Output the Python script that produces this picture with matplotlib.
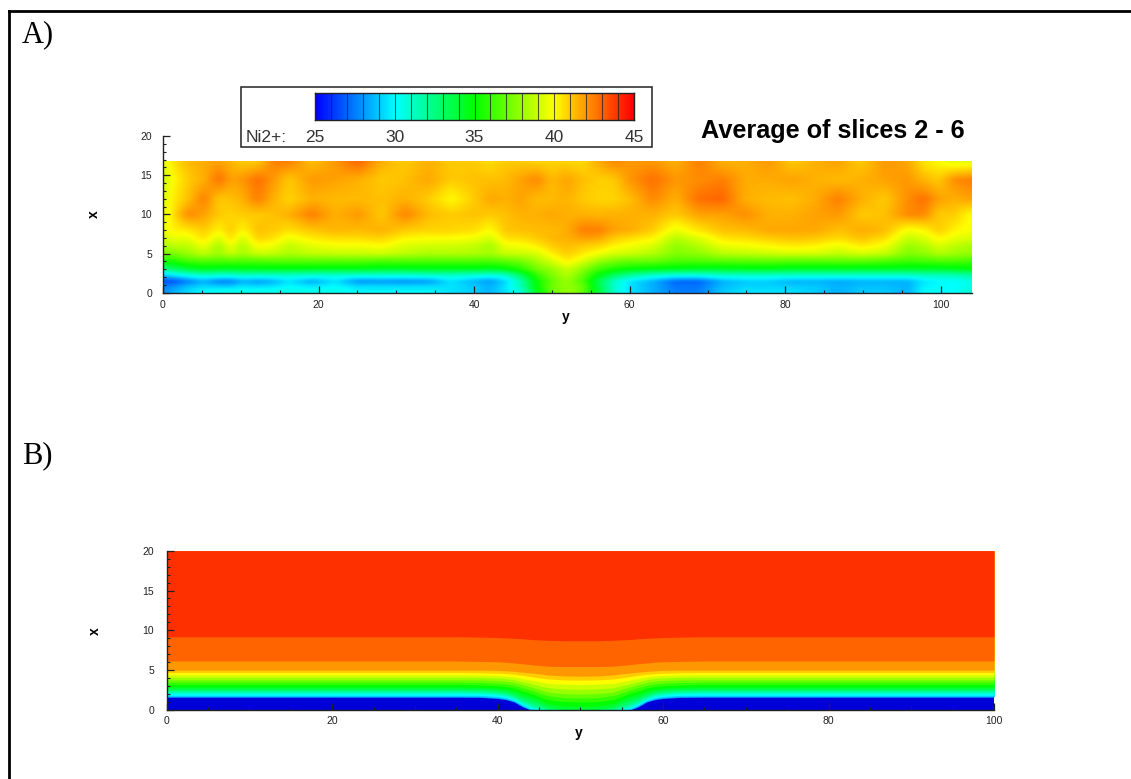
import numpy as np
import matplotlib
matplotlib.use("Agg")
import matplotlib.pyplot as plt
from matplotlib.colors import LinearSegmentedColormap
from matplotlib.lines import Line2D
from matplotlib.patches import Rectangle
from matplotlib.ticker import MultipleLocator

W, H = 1131, 779

### panel A, values (rows are x, columns are y)
a_y = [0, 1, 3, 5, 7, 8.5, 10, 12, 14, 16, 19, 22, 25, 28, 31, 34, 37, 40, 42, 44, 46, 48,
       50, 52, 54, 56, 58, 60, 63, 66, 69, 72, 75, 78, 81, 84, 87, 90, 93, 96, 98, 100, 102, 104]
a_x = [0, 0.8, 1.4, 2.2, 3, 4, 5, 6, 7, 8, 10, 12, 14.5, 16.8]
a_00 = [28, 28.5, 29.5, 30, 30.5, 30.5, 30.5, 30.5, 30.5, 30.5, 30.5, 30.5, 30, 30, 30, 30, 29.5, 29, 28.5, 29.5, 30.5, 34.5,
        37, 38, 37, 34, 31, 29.5, 28.5, 27.5, 27.5, 29, 29.5, 29.5, 29.5, 29, 28.5, 29, 29, 28.5, 30, 30, 30, 31]
a_08 = [27.5, 27.8, 28.7, 29.3, 29, 29, 29.5, 29.3, 29.5, 30, 29.5, 30, 29.3, 29.3, 29.3, 29.3, 29.5, 29, 28.5, 29.5, 31.5, 35,
        37.2, 38, 37, 33.7, 31, 29.5, 28.5, 27.3, 27.3, 28.7, 29.2, 29.2, 29, 29, 28.5, 28.8, 28.8, 28.5, 29.8, 30, 30, 30.5]
a_14 = [26.5, 26.5, 27.5, 28.5, 27.5, 27.5, 28.5, 28, 28.5, 29.5, 28.3, 29.5, 27.8, 28, 27.8, 28, 29.5, 28.5, 28, 29.2, 31.5, 35,
        37, 38, 36.5, 33.5, 31, 29.5, 28.5, 27, 27, 28.5, 29, 29, 28.5, 28.5, 28.3, 28.5, 28.5, 28.5, 29.5, 30, 30, 30.5]
a_22 = [29, 29.5, 30.5, 31, 30.8, 30.8, 31, 31, 31, 31, 30.8, 30.8, 30.8, 30.8, 30.8, 31, 31, 30.8, 30.5, 31, 33.2, 36,
        37.5, 38.5, 37, 34.8, 33.2, 32, 31, 30.5, 30.5, 31, 31, 31, 31, 31, 31, 31, 31, 31, 31.3, 31.3, 31.5, 31.8]
a_30 = [32.5, 33, 34, 34.5, 34.3, 34.3, 34.5, 34.5, 34.5, 34.5, 34.5, 34.5, 34.5, 34.3, 34.3, 34.5, 34.5, 34.5, 34.3, 34.8, 35.8, 37.2,
        38, 39, 37.8, 36.3, 35.5, 35, 34.7, 34.5, 34.3, 34.3, 34.5, 34.5, 34.3, 34.3, 34.3, 34.3, 34.3, 34.3, 34.3, 34.3, 34.5, 34.8]
a_40 = [35.5, 35.5, 36.3, 36.5, 36.5, 36.5, 36.5, 36.5, 36.7, 36.7, 36.7, 36.7, 36.7, 36.5, 36.6, 36.5, 36.5, 36.5, 36.5, 36.8, 37.2, 38.2,
        39.2, 40.3, 39.3, 38, 37.3, 37, 37, 36.5, 36.5, 36.7, 36.7, 36.8, 36.7, 36.7, 36.8, 36.8, 36.5, 36.2, 36.3, 36.5, 36.5, 36.3]
a_50 = [37.2, 37.4, 38, 38.8, 38, 38.9, 38.2, 39, 38.8, 38.4, 38.8, 38.9, 38.9, 39, 38.7, 38.4, 38.5, 38.4, 38.2, 38.9, 39, 39.2,
        40.3, 41, 40.4, 39.8, 39.2, 39, 38.5, 37.5, 37.8, 38.6, 38.8, 39, 39.2, 39.2, 38.8, 39.2, 38.8, 37.5, 37.8, 38.5, 38.1, 37.9]
a_60 = [38.4, 38.7, 38.7, 39.7, 38.2, 39.8, 38.4, 40, 39.7, 38.8, 39.5, 39.8, 39.8, 40, 39.3, 39.1, 39.1, 38.8, 38.2, 39.7, 39.8, 40.3,
        41, 41.3, 41, 40.8, 40.2, 39.8, 39.3, 37.8, 38.5, 39.6, 39.8, 40.1, 40.4, 40.2, 39.7, 40.4, 39.8, 38, 38.4, 39.3, 38.7, 38.3]
a_70 = [39.1, 39.6, 39.6, 40.6, 39.2, 40.7, 39.2, 40.9, 40.6, 39.7, 40.4, 40.7, 40.7, 40.9, 40.2, 40, 40, 39.8, 39.2, 40.6, 40.7, 41,
        41.4, 41.5, 41.9, 41.8, 41, 40.7, 40.2, 38.6, 39.4, 40.5, 40.7, 41, 41.2, 41.1, 40.7, 41.2, 40.7, 38.9, 39.3, 40.2, 39.6, 39.3]
a_80 = [39.6, 40.2, 40.4, 41, 40.2, 41, 40.1, 41.2, 41, 40.6, 41.1, 41.4, 41.3, 41.5, 41, 40.8, 40.8, 40.6, 40, 41.1, 41.2, 41.3,
        41.3, 41.6, 42.5, 42.5, 41.8, 41.6, 41, 39.6, 40.5, 41.2, 41.3, 41.7, 41.7, 41.7, 41.2, 41.6, 41.3, 39.8, 40.1, 41, 40.2, 39.8]
a_100 = [39.5, 40.5, 42.3, 41.8, 41, 40.8, 41, 41, 41.2, 41.5, 42.5, 41.5, 42, 41, 42.4, 41.3, 41, 41.2, 41, 41.2, 41.5, 41.5,
         41.7, 41.5, 41.5, 41.4, 41.5, 41.5, 41.5, 41, 41.8, 41.8, 42.2, 41.5, 41.5, 41.8, 42, 41, 41.2, 42.3, 42.3, 41, 41, 40]
a_120 = [39.3, 40.3, 41.2, 42.5, 41, 41.2, 41.5, 42.5, 41.5, 40.8, 41.5, 41.3, 41.3, 41.2, 41.5, 41, 40, 41, 41.7, 41.5, 41.8, 41.3,
         41.3, 41.5, 41, 40.8, 40.8, 41.2, 42.3, 41.5, 42.8, 43, 41.5, 41.3, 41.2, 41.6, 42.5, 41.5, 41, 42.2, 42.8, 41.8, 41.5, 41.8]
a_145 = [39, 40, 41, 41.5, 42.8, 41.8, 42, 42.8, 42, 41, 42, 41.8, 41.5, 41, 41.2, 41.7, 41, 41.2, 41.2, 41.3, 41.8, 42.3,
         41.3, 41.8, 41.2, 40.9, 41, 42, 42.8, 42, 42.2, 42.5, 41.6, 41.6, 41.8, 41.5, 41.3, 41.5, 41.8, 42, 41.4, 41, 42.2, 42.5]
a_170 = [39.5, 40.5, 41.3, 41.6, 41.8, 41.4, 41, 41, 42.4, 42.5, 41.2, 42, 43, 41.5, 41, 41.5, 41, 41, 40.6, 41, 41, 40.8,
         40.8, 40.8, 40.7, 41.6, 42.3, 42, 42, 41.5, 42.5, 41.5, 41.5, 42, 41, 41.5, 41.8, 41, 42, 41.7, 40.5, 40, 39.5, 39.5]

### panel B, contour heights against distance from the middle of the gap (y = 50)
b_centre = 50
b_dist = [0, 2, 4, 5, 6, 7, 8, 9, 10, 12, 15, 50]
b_levels = [28, 29, 30, 31, 32, 33, 34, 35, 36, 37, 38, 39, 40, 41, 42, 43, 44]
b_28 = [0, 0, 0, 0, 0, .4, 1, 1.3, 1.45, 1.58, 1.6, 1.6]
b_29 = [0, 0, 0, 0, .05, .5, 1.1, 1.4, 1.55, 1.68, 1.7, 1.7]
b_30 = [0, 0, 0, 0, .15, .65, 1.2, 1.55, 1.7, 1.83, 1.85, 1.85]
b_31 = [0, 0, 0, .05, .3, .8, 1.35, 1.7, 1.88, 2.03, 2.05, 2.05]
b_32 = [0, 0, 0, .2, .55, 1.0, 1.55, 1.9, 2.05, 2.2, 2.25, 2.25]
b_33 = [0, 0, .1, .5, .85, 1.25, 1.75, 2.1, 2.25, 2.4, 2.45, 2.45]
b_34 = [0, .05, .4, .9, 1.25, 1.6, 2.05, 2.35, 2.5, 2.6, 2.65, 2.65]
b_35 = [.45, .5, .8, 1.3, 1.7, 2.0, 2.4, 2.6, 2.75, 2.85, 2.9, 2.9]
b_36 = [1.0, 1.05, 1.3, 1.7, 2.1, 2.4, 2.75, 2.95, 3.05, 3.15, 3.2, 3.2]
b_37 = [1.5, 1.55, 1.8, 2.15, 2.5, 2.8, 3.1, 3.25, 3.35, 3.45, 3.5, 3.5]
b_38 = [2.0, 2.05, 2.25, 2.6, 2.9, 3.2, 3.45, 3.6, 3.7, 3.78, 3.8, 3.8]
b_39 = [2.6, 2.65, 2.8, 3.05, 3.3, 3.55, 3.8, 3.95, 4.02, 4.08, 4.1, 4.1]
b_40 = [3.2, 3.25, 3.35, 3.55, 3.75, 3.95, 4.15, 4.25, 4.33, 4.38, 4.4, 4.4]
b_41 = [3.75, 3.78, 3.9, 4.05, 4.2, 4.35, 4.5, 4.57, 4.62, 4.68, 4.7, 4.7]
b_42 = [4.25, 4.27, 4.4, 4.55, 4.65, 4.75, 4.85, 4.92, 4.97, 5, 5, 5]
b_43 = [5.45, 5.45, 5.5, 5.6, 5.7, 5.8, 5.9, 6, 6.05, 6.1, 6.15, 6.15]
b_44 = [8.7, 8.7, 8.75, 8.8, 8.85, 8.95, 9.0, 9.05, 9.1, 9.15, 9.2, 9.2]

legend_ticks = [25, 30, 35, 40, 45]

cmap = LinearSegmentedColormap.from_list(
    "tec", ["#0000ff", "#00ffff", "#00ff00", "#ffff00", "#ff0000"])


def px_axes(x0, y0, x1, y1):
    # pixel box, y counted from the top of the image
    return fig.add_axes([x0 / W, 1 - y1 / H, (x1 - x0) / W, (y1 - y0) / H])


def smooth(a, n, axis):
    # the source image is blurry, so soften the grid a bit before showing it
    k = np.hanning(n + 2)[1:-1]
    k = k / k.sum()
    pad = n // 2
    def run(v):
        return np.convolve(np.pad(v, pad, mode="edge"), k, mode="valid")
    return np.apply_along_axis(run, axis, a)


def style_axes(ax, xmax, xpad, ypad):
    ax.set_xlim(0, xmax)
    ax.set_ylim(0, 20)
    ax.xaxis.set_major_locator(MultipleLocator(20))
    ax.xaxis.set_minor_locator(MultipleLocator(5))
    ax.yaxis.set_major_locator(MultipleLocator(5))
    ax.yaxis.set_minor_locator(MultipleLocator(1))
    ax.tick_params(which="major", direction="in", length=5, width=0.9, labelsize=7.5, colors="#222222")
    ax.tick_params(axis="x", which="major", pad=xpad)
    ax.tick_params(axis="y", which="major", pad=ypad)
    ax.tick_params(which="minor", direction="in", length=2.5, width=0.8, color="#222222")
    for name in ["top", "right"]:
        ax.spines[name].set_visible(False)
    for name in ["left", "bottom"]:
        ax.spines[name].set_linewidth(1.0)
        ax.spines[name].set_color("#222222")


plt.rcParams["font.family"] = ["Liberation Sans", "DejaVu Sans"]
fig = plt.figure(figsize=(W / 100, H / 100), dpi=100)

# outer frame, only top and left are in the picture
fig.add_artist(Line2D([8.5 / W, 8.5 / W], [0, 1 - 11 / H], color="black", lw=2))
fig.add_artist(Line2D([8.5 / W, 1], [1 - 11 / H, 1 - 11 / H], color="black", lw=2))

fig.text(22 / W, 1 - 42 / H, "A)", family="Liberation Serif", fontsize=22, color="black")
fig.text(22 / W, 1 - 463 / H, "B)", family="Liberation Serif", fontsize=22, color="black")

### panel A
ax_a = px_axes(163, 136, 972, 292.7)
ax_a.patch.set_alpha(0)
Z = np.array([a_00, a_08, a_14, a_22, a_30, a_40, a_50, a_60, a_70, a_80, a_100, a_120, a_145, a_170])
fine_y = np.arange(0, 104.01, 0.5)
fine_x = np.arange(0, 16.81, 0.2)
Zf = np.array([np.interp(fine_y, a_y, row) for row in Z])
Zf = np.array([np.interp(fine_x, a_x, col) for col in Zf.T]).T
Zf = smooth(smooth(Zf, 3, 1), 3, 0)
ax_a.imshow(Zf, origin="lower", extent=[0, 104, 0, 16.8], aspect="auto", cmap=cmap, vmin=25, vmax=45,
            interpolation="bicubic")
style_axes(ax_a, 104, 5, 8)
fig.text(566 / W, 1 - 317 / H, "y", fontsize=10, fontweight="bold", ha="center", va="center")
fig.text(94 / W, 1 - 214 / H, "x", fontsize=10, fontweight="bold", rotation=90, ha="center", va="center")
fig.text(701 / W, 1 - 131 / H, "Average of slices 2 - 6", fontsize=18.2, fontweight="bold", va="center")

# legend box
fig.add_artist(Rectangle((241 / W, 1 - 147 / H), 411 / W, 60 / H, transform=fig.transFigure,
                         fc="white", ec="#222222", lw=1.1, zorder=-1))
ax_c = px_axes(315, 93, 634, 120)
ax_c.imshow(np.linspace(25, 45, 400)[None, :], extent=[25, 45, 0, 1], aspect="auto", cmap=cmap, vmin=25, vmax=45)
ax_c.vlines(np.arange(26, 45), 0, 1, color="#222222", lw=0.8, alpha=0.75)
ax_c.set_xticks(legend_ticks)
ax_c.set_yticks([])
ax_c.tick_params(axis="x", length=0, labelsize=12.5, pad=7.5, colors="#333333")
for sp in ax_c.spines.values():
    sp.set_linewidth(1.0)
    sp.set_color("#222222")
fig.text(246 / W, 1 - 137 / H, "Ni2+:", fontsize=12.5, color="#333333", va="center")

### panel B
ax_b = px_axes(166.7, 550.7, 994, 710)
ax_b.set_facecolor("#0000d8")
b_y = b_centre + np.concatenate([-np.array(b_dist)[::-1], np.array(b_dist)[1:]])
b_rows = [b_28, b_29, b_30, b_31, b_32, b_33, b_34, b_35, b_36, b_37, b_38, b_39, b_40, b_41, b_42, b_43, b_44]
for level, row in zip(b_levels, b_rows):
    h = np.concatenate([np.array(row)[::-1], np.array(row)[1:]])
    ax_b.fill_between(b_y, h, 20, color=cmap((level - 25) / 20), lw=0)
style_axes(ax_b, 100, 4, 9)
fig.text(579 / W, 1 - 733 / H, "y", fontsize=10, fontweight="bold", ha="center", va="center")
fig.text(95 / W, 1 - 631 / H, "x", fontsize=10, fontweight="bold", rotation=90, ha="center", va="center")

fig.savefig("out.png", dpi=100)
